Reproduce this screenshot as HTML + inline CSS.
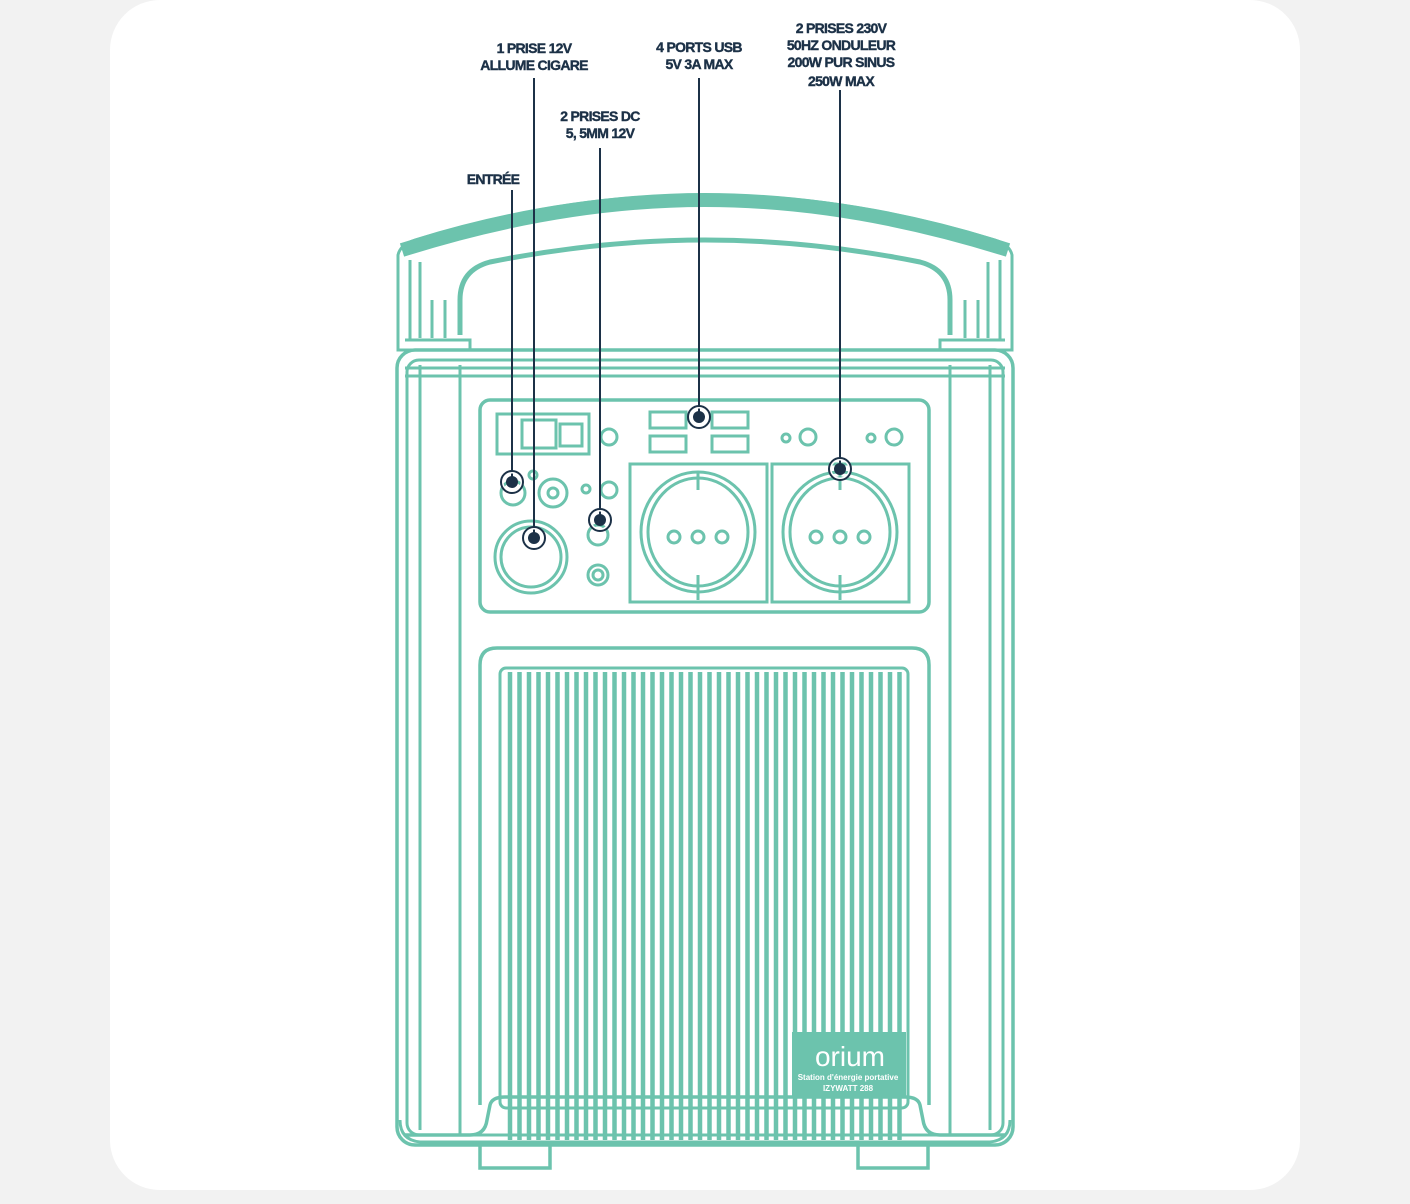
<!DOCTYPE html>
<html><head><meta charset="utf-8"><style>
html,body{margin:0;padding:0;background:#f2f2f2;}
.card{position:absolute;left:110px;top:0;width:1190px;height:1190px;background:#fff;border-radius:50px;}
svg{position:absolute;left:0;top:0;}
.l{font-family:"Liberation Sans",sans-serif;font-weight:bold;font-size:14px;fill:#1c3147;text-anchor:middle;letter-spacing:-0.7px;stroke:#1c3147;stroke-width:0.4}
</style></head><body>
<div class="card"></div>
<svg width="1410" height="1204" viewBox="0 0 1410 1204">
<g fill="none" stroke="#6cc3ad" stroke-width="3">
<!-- handle -->
<path d="M398 255 Q400 245 415 240 Q560 195 705 195 Q850 195 995 240 Q1010 245 1012 255 L1012 350 L398 350 Z" stroke-width="3"/>
<path d="M402 250 Q560 200 705 200 Q850 200 1008 250" stroke-width="14"/>
<path d="M460 335 L460 300 Q460 270 490 262 Q600 240 705 240 Q810 240 920 262 Q950 270 950 300 L950 335" stroke-width="5"/>
<path d="M410 260 L410 340 M420 262 L420 338 M432 300 L432 338 M445 300 L445 338 M988 262 L988 338 M1000 260 L1000 340 M978 300 L978 338 M965 300 L965 338"/>
<path d="M405 340 L470 340 L470 350 M940 350 L940 340 L1005 340"/>
<!-- body -->
<rect x="397" y="350" width="616" height="795" rx="18" stroke-width="3.5"/>
<rect x="407" y="360" width="596" height="775" rx="12"/>
<path d="M460 365 L460 1135 M950 365 L950 1135 M420 365 L420 1130 M990 365 L990 1130"/>
<path d="M405 368 L1005 368 M405 376 L1005 376"/>
<!-- panel -->
<rect x="480" y="400" width="449" height="212" rx="10" stroke-width="3.5"/>
<rect x="497" y="414" width="92" height="40"/>
<rect x="522" y="420" width="34" height="28"/><rect x="560" y="424" width="22" height="22"/>
<circle cx="609" cy="437" r="8"/>
<circle cx="513" cy="493" r="12"/><circle cx="553" cy="493" r="14"/><circle cx="553" cy="493" r="5"/><circle cx="533" cy="475" r="4"/>
<circle cx="531" cy="557" r="36"/><circle cx="531" cy="557" r="30"/>
<circle cx="586" cy="489" r="4"/><circle cx="609" cy="490" r="8"/>
<circle cx="598" cy="535" r="10"/><circle cx="598" cy="575" r="10"/><circle cx="598" cy="575" r="5"/>
<rect x="650" y="412" width="36" height="16"/><rect x="650" y="436" width="36" height="16"/>
<rect x="712" y="412" width="36" height="16"/><rect x="712" y="436" width="36" height="16"/>
<circle cx="786" cy="438" r="4"/><circle cx="808" cy="437" r="8"/>
<circle cx="871" cy="438" r="4"/><circle cx="894" cy="437" r="8"/>
<rect x="630" y="464" width="137" height="138"/><rect x="772" y="464" width="137" height="138"/>
<ellipse cx="698" cy="532" rx="57" ry="60"/><ellipse cx="698" cy="532" rx="50" ry="54"/>
<ellipse cx="840" cy="532" rx="57" ry="60"/><ellipse cx="840" cy="532" rx="50" ry="54"/>
<circle cx="674" cy="537" r="6"/><circle cx="698" cy="537" r="6"/><circle cx="722" cy="537" r="6"/>
<circle cx="816" cy="537" r="6"/><circle cx="840" cy="537" r="6"/><circle cx="864" cy="537" r="6"/>
<path d="M698 472 L698 490 M698 575 L698 600 M840 472 L840 490 M840 575 L840 600"/>
<!-- vent frame -->
<path d="M480 1105 L480 665 Q480 648 497 648 L912 648 Q929 648 929 665 L929 1105" stroke-width="3.5"/>
<rect x="500" y="668" width="408" height="440" rx="6"/>
<path d="M405 1135 L470 1135 Q485 1135 487 1120 L490 1105 Q492 1097 505 1097 L905 1097 Q918 1097 920 1105 L923 1120 Q925 1135 940 1135 L1005 1135" stroke-width="3.5"/>
<path d="M480 1145 L480 1168 L550 1168 L550 1145 M858 1145 L858 1168 L928 1168 L928 1145" stroke-width="3.5"/>
<path d="M400 1120 Q400 1140 420 1142 L990 1142 Q1010 1140 1010 1120"/>
</g>
<g stroke="#6cc3ad" stroke-width="4.5">
<path d="M510 672V1140 M519.5 672V1140 M529 672V1140 M538.5 672V1140 M548 672V1140 M557.5 672V1140 M567 672V1140 M576.5 672V1140 M586 672V1140 M595.5 672V1140 M605 672V1140 M614.5 672V1140 M624 672V1140 M633.5 672V1140 M643 672V1140 M652.5 672V1140 M662 672V1140 M671.5 672V1140 M681 672V1140 M690.5 672V1140 M700 672V1140 M709.5 672V1140 M719 672V1140 M728.5 672V1140 M738 672V1140 M747.5 672V1140 M757 672V1140 M766.5 672V1140 M776 672V1140 M785.5 672V1140 M795 672V1140 M804.5 672V1140 M814 672V1140 M823.5 672V1140 M833 672V1140 M842.5 672V1140 M852 672V1140 M861.5 672V1140 M871 672V1140 M880.5 672V1140 M890 672V1140 M899.5 672V1140"/>
</g>
<rect x="792" y="1032" width="114" height="66" fill="#6cc3ad"/>
<text x="850" y="1066" font-family="Liberation Sans,sans-serif" font-size="28" fill="#fff" text-anchor="middle">orium</text>
<text x="848" y="1080" font-family="Liberation Sans,sans-serif" font-size="8" font-weight="bold" fill="#fff" text-anchor="middle">Station d'énergie portative</text>
<text x="848" y="1091" font-family="Liberation Sans,sans-serif" font-size="8" font-weight="bold" fill="#fff" text-anchor="middle">IZYWATT 288</text>
<!-- leaders -->
<g stroke="#1c3147" stroke-width="2" fill="none">
<path d="M512 190V482 M534 78V538 M600 148V520 M699 78V417 M840 90V469"/>
<circle cx="512" cy="482" r="10" stroke="#fff" stroke-width="3"/>
<circle cx="534" cy="538" r="10" stroke="#fff" stroke-width="3"/>
<circle cx="600" cy="520" r="10" stroke="#fff" stroke-width="3"/>
<circle cx="699" cy="417" r="10" stroke="#fff" stroke-width="3"/>
<circle cx="840" cy="469" r="10" stroke="#fff" stroke-width="3"/>
<circle cx="512" cy="482" r="11"/><circle cx="534" cy="538" r="11"/><circle cx="600" cy="520" r="11"/><circle cx="699" cy="417" r="11"/><circle cx="840" cy="469" r="11"/>
</g>
<g fill="#1c3147"><circle cx="512" cy="482" r="6"/><circle cx="534" cy="538" r="6"/><circle cx="600" cy="520" r="6"/><circle cx="699" cy="417" r="6"/><circle cx="840" cy="469" r="6"/></g>
<text class="l" x="493" y="184">ENTRÉE</text>
<text class="l" x="534" y="53">1 PRISE 12V</text><text class="l" x="534" y="70">ALLUME CIGARE</text>
<text class="l" x="600" y="121">2 PRISES DC</text><text class="l" x="600" y="138">5, 5MM 12V</text>
<text class="l" x="699" y="52">4 PORTS USB</text><text class="l" x="699" y="69">5V 3A MAX</text>
<text class="l" x="841" y="33">2 PRISES 230V</text><text class="l" x="841" y="50">50HZ ONDULEUR</text><text class="l" x="841" y="67">200W PUR SINUS</text><text class="l" x="841" y="86">250W MAX</text>
</svg>
</body></html>
